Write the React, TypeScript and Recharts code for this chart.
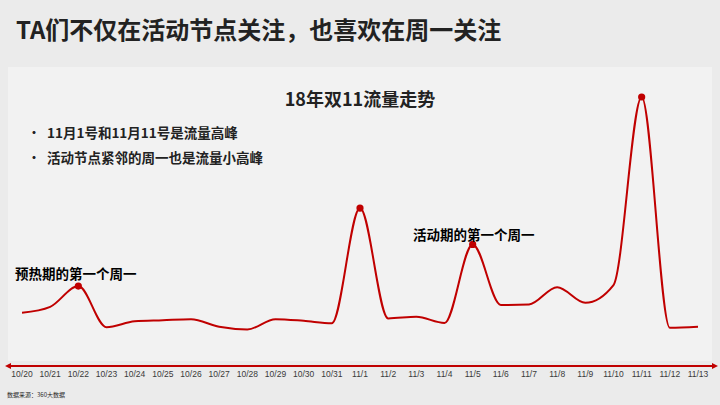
import { LineChart, Line, XAxis, YAxis } from "recharts";

// 18年双11 daily traffic index (11/11 = 100)
const dates = [
  "10/20", "10/21", "10/22", "10/23", "10/24", "10/25", "10/26", "10/27", "10/28", "10/29",
  "10/30", "10/31", "11/1", "11/2", "11/3", "11/4", "11/5", "11/6", "11/7", "11/8",
  "11/9", "11/10", "11/11", "11/12", "11/13",
];
const traffic = [
  19.8, 22.0, 29.7, 14.4, 16.6, 17.0, 17.4, 14.6, 13.6, 17.4,
  16.8, 15.9, 58.7, 17.7, 18.3, 16.0, 45.2, 22.7, 22.9, 29.3,
  23.5, 30.1, 100, 14.2, 14.6,
];
const markedDates = ["10/22", "11/1", "11/5", "11/11"];

const bullets = ["11月1号和11月11号是流量高峰", "活动节点紧邻的周一也是流量小高峰"];

const RED = "#c00000";
const CJK = '"Noto Sans CJK SC", "Noto Sans", sans-serif';

const data = dates.map((d, i) => ({ date: d, value: traffic[i], marked: markedDates.includes(d) }));

const PeakDot = (props: any) => {
  const { cx, cy, payload, index } = props;
  if (!payload.marked) return <g key={`d-${index}`} />;
  return <circle key={`d-${index}`} cx={cx} cy={cy} r={3.6} fill={RED} stroke="none" />;
};

export default function App() {
  return (
    <div style={{ position: "fixed", left: 0, top: 0, width: 720, height: 405, background: "#ebebeb", overflow: "hidden", fontFamily: CJK }}>
      <div style={{ position: "absolute", left: 16, top: 17, fontSize: 24, lineHeight: "24px", fontWeight: 700, color: "#222", whiteSpace: "nowrap" }}>
        TA们不仅在活动节点关注，也喜欢在周一关注
      </div>

      {/* chart panel */}
      <div style={{ position: "absolute", left: 8, top: 67, width: 704, height: 294, background: "#f2f2f2" }} />

      <div style={{ position: "absolute", left: 0, top: 0 }}>
        <LineChart width={720} height={405} data={data} margin={{ top: 97, right: 22, bottom: 9, left: 22 }}>
          <XAxis
            dataKey="date"
            height={30}
            axisLine={false}
            tickLine={false}
            tickSize={3}
            tickMargin={2}
            interval={0}
            tick={{ fontSize: 8.5, fill: "#3a3a3a", fontFamily: '"Liberation Sans", Arial, sans-serif' }}
          />
          <YAxis hide domain={[0, 100]} />
          <Line
            type="monotone"
            dataKey="value"
            stroke={RED}
            strokeWidth={2}
            dot={PeakDot}
            activeDot={false}
            isAnimationActive={false}
          />
        </LineChart>
      </div>

      {/* axis arrow */}
      <svg width={720} height={405} style={{ position: "absolute", left: 0, top: 0, pointerEvents: "none" }}>
        <line x1={10} y1={366} x2={714} y2={366} stroke={RED} strokeWidth={2} />
        <polygon points="5,366 11,363 11,369" fill={RED} />
        <polygon points="718,366 712,363 712,369" fill={RED} />
      </svg>

      <div style={{ position: "absolute", left: 0, width: 720, top: 89, textAlign: "center", fontSize: 18, lineHeight: "18px", fontWeight: 700, color: "#222" }}>
        18年双11流量走势
      </div>

      {bullets.map((b, i) => (
        <div key={b} style={{ position: "absolute", left: 28, top: 126 + i * 24.5, fontSize: 13.5, lineHeight: "13.5px", fontWeight: 700, color: "#222", whiteSpace: "nowrap" }}>
          <span style={{ display: "inline-block", width: 19, fontSize: 12 }}>•</span>
          {b}
        </div>
      ))}

      <div style={{ position: "absolute", left: 15, top: 267, fontSize: 13.5, lineHeight: "13.5px", fontWeight: 700, color: "#000", whiteSpace: "nowrap" }}>
        预热期的第一个周一
      </div>
      <div style={{ position: "absolute", left: 413, top: 228, fontSize: 13.5, lineHeight: "13.5px", fontWeight: 700, color: "#000", whiteSpace: "nowrap" }}>
        活动期的第一个周一
      </div>

      <div style={{ position: "absolute", left: 7, top: 392, fontSize: 6, lineHeight: "6px", color: "#262626", whiteSpace: "nowrap" }}>
        数据来源：360大数据
      </div>
    </div>
  );
}
